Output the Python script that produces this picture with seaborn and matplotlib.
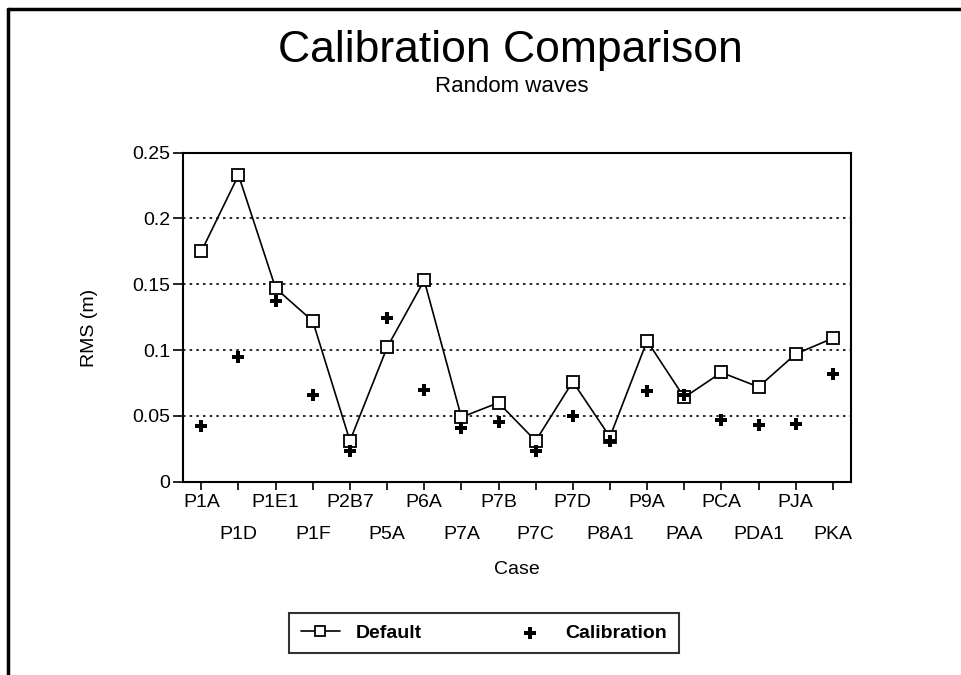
import numpy as np
import pandas as pd
import matplotlib
matplotlib.use("Agg")
import matplotlib.pyplot as plt
from matplotlib.lines import Line2D
from matplotlib.ticker import FuncFormatter
import seaborn as sns

# values
cases = ["P1A", "P1D", "P1E1", "P1F", "P2B7", "P5A", "P6A", "P7A", "P7B",
         "P7C", "P7D", "P8A1", "P9A", "PAA", "PCA", "PDA1", "PJA", "PKA"]
default_rms = [0.175, 0.233, 0.147, 0.122, 0.031, 0.102, 0.153, 0.049, 0.060,
               0.031, 0.076, 0.034, 0.107, 0.064, 0.083, 0.072, 0.097, 0.109]
calibration_rms = [0.042, 0.095, 0.137, 0.066, 0.023, 0.124, 0.070, 0.041, 0.045,
                   0.023, 0.050, 0.031, 0.069, 0.066, 0.047, 0.043, 0.044, 0.082]
y_ticks = [0, 0.05, 0.1, 0.15, 0.2, 0.25]


def main():
    sns.set_style("ticks")
    plt.rcParams["font.family"] = ["Liberation Sans", "DejaVu Sans"]
    plt.rcParams.update({
        "text.color": "black",
        "axes.labelcolor": "black",
        "xtick.color": "black",
        "ytick.color": "black",
    })

    df = pd.DataFrame({
        "pos": np.arange(len(cases)),
        "Case": cases,
        "Default": default_rms,
        "Calibration": calibration_rms,
    })

    fig = plt.figure(figsize=(9.62, 6.75), dpi=100)
    ax = fig.add_axes([0.190, 0.2864, 0.695, 0.4874])

    sns.lineplot(data=df, x="pos", y="Default", color="black", lw=1.2,
                 marker="s", markersize=9, markerfacecolor="white",
                 markeredgecolor="black", markeredgewidth=1.3,
                 label="Default", ax=ax, zorder=3)
    sns.scatterplot(data=df, x="pos", y="Calibration", color="black",
                    marker="P", s=75, linewidth=0, label="Calibration",
                    ax=ax, zorder=4)
    if ax.get_legend() is not None:
        ax.get_legend().remove()

    ax.set_xlim(-0.5, 17.5)
    ax.set_ylim(0, 0.25)
    ax.set_yticks(y_ticks)
    ax.yaxis.set_major_formatter(FuncFormatter(lambda v, p: f"{v:g}"))

    # staggered case labels: even ones on top row, odd ones below
    pos = df["pos"].to_numpy()
    ax.set_xticks(pos[::2])
    ax.set_xticklabels(cases[::2])
    ax.set_xticks(pos[1::2], minor=True)
    ax.set_xticklabels(cases[1::2], minor=True)
    ax.tick_params(axis="x", which="major", direction="out", length=6,
                   width=1.2, pad=3, labelsize=14, color="black")
    ax.tick_params(axis="x", which="minor", direction="out", length=6,
                   width=1.2, pad=26, labelsize=14, color="black")
    ax.tick_params(axis="y", direction="out", length=7, width=1.2,
                   pad=2, labelsize=14, color="black")

    ax.yaxis.grid(True, color="black", linestyle=(0, (1.5, 2.5)), lw=1.2)
    ax.xaxis.grid(False)
    for s in ax.spines.values():
        s.set_visible(True)
        s.set_color("black")
        s.set_linewidth(1.5)

    ax.set_xlabel("Case", fontsize=14)
    ax.set_ylabel("RMS (m)", fontsize=14)
    ax.xaxis.set_label_coords(0.5, -0.241)
    ax.yaxis.set_label_coords(-0.127, 0.467)

    fig.text(510 / 962, 1 - 62 / 675, "Calibration Comparison", fontsize=32,
             ha="center", va="baseline")
    fig.text(512 / 962, 1 - 92 / 675, "Random waves", fontsize=16,
             ha="center", va="baseline")

    handles, labels = ax.get_legend_handles_labels()
    leg = fig.legend(handles, labels, loc="center",
                     bbox_to_anchor=(484 / 962, 1 - 633 / 675), ncol=2,
                     frameon=True, fancybox=False, edgecolor="black",
                     columnspacing=4.6, handlelength=2.0, handletextpad=0.8,
                     borderpad=0.6, borderaxespad=0,
                     prop={"size": 14, "weight": "bold"})
    leg.get_frame().set_linewidth(1.5)
    leg.legend_handles[0].set_markersize(6.5)

    # page frame (top and left edges)
    fig.add_artist(Line2D([8 / 962, 1], [1 - 9 / 675] * 2,
                          transform=fig.transFigure, color="black", lw=2.5))
    fig.add_artist(Line2D([8 / 962] * 2, [0, 1 - 9 / 675],
                          transform=fig.transFigure, color="black", lw=2.5))

    fig.savefig("out.png", dpi=100)


if __name__ == "__main__":
    main()
